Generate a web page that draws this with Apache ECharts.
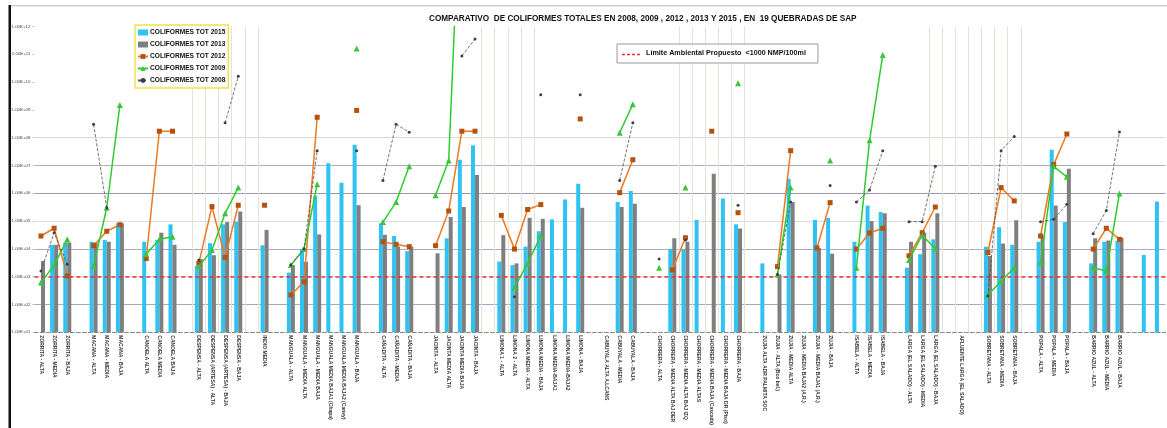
<!DOCTYPE html>
<html>
<head>
<meta charset="utf-8">
<script src="https://cdn.jsdelivr.net/npm/echarts@6/dist/echarts.min.js"></script>
<style>
  html, body { margin: 0; padding: 0; background: #fff; }
  #chart { width: 1167px; height: 428px; }
</style>
</head>
<body>
<div id="chart"></div>
<script>
// Sampling points along the 19 streams (blank entries separate the streams)
const categories = [
  'ZORRITA - ALTA', 'ZORRITA - MEDIA', 'ZORRITA - BAJA', '',
  'MACANA - ALTA', 'MACANA - MEDIA', 'MACANA - BAJA', '',
  'CANOELA ALTA', 'CANOELA MEDIA', 'CANOELA BAJA', '',
  'DESPENSA - ALTA', 'DESPENSA (ARTESA) - ALTA', 'DESPENSA (ARTESA) - BAJA', 'DESPENSA - BAJA', '',
  'INDIO MEDIA', '',
  'MANGUALA - ALTA', 'MANGUALA - MEDIA ALTA', 'MANGUALA - MEDIA BAJA', 'MANGUALA MEDIA BAJA1 (Chapa)', 'MANGUALA MEDIA BAJA2 (Caney)', 'MANGUALA - BAJA', '',
  'CAÑADITA - ALTA', 'CAÑADITA - MEDIA', 'CAÑADITA - BAJA', '',
  'JACINTA - ALTA', 'JACINTA MEDIA ALTA', 'JACINTA MEDIA BAJA', 'JACINTA - BAJA', '',
  'LIMONA 1 - ALTA', 'LIMONA 2 - ALTA', 'LIMONA MEDIA - ALTA', 'LIMONA MEDIA - BAJA', 'LIMONA MEDIA-BAJA1', 'LIMONA MEDIA-BAJA2', 'LIMONA - BAJA', '',
  'CABUYALA ALTA A.LCANS', 'CABUYALA - MEDIA', 'CABUYALA - BAJA', '',
  'CHORRERA - ALTA', 'CHORRERA - MEDIA ALTA BAJ DER', 'CHORRERA - MEDIA ALTA BAJ IZQ', 'CHORRERA - MEDIA ALTAS', 'CHORRERA - MEDIA BAJA (Cascada)', 'CHORRERA - MEDIA BAJA DR (Piso)', 'CHORRERA - BAJA', '',
  'ZUJIA ALTA ADR PALMITA SOC', 'ZUJIA - ALTA (Bco bel.)', 'ZUJIA - MEDIA ALTA', 'ZUJIA - MEDIA BAJA2 (A.R.)', 'ZUJIA - MEDIA BAJA1 (A.R.)', 'ZUJIA - BAJA', '',
  'ISABELA - ALTA', 'ISABELA - MEDIA', 'ISABELA - BAJA', '',
  'LARGA (EL SALADO) - ALTA', 'LARGA (EL SALADO) - MEDIA', 'LARGA (EL SALADO) - BAJA', '',
  'AFLUENTE LARGA (EL SALADO)', '',
  'SOBRETANA - ALTA', 'SOBRETANA - MEDIA', 'SOBRETANA - BAJA', '',
  'POPALA - ALTA', 'POPALA - MEDIA', 'POPALA - BAJA', '',
  'BARRIO AZUL - ALTA', 'BARRIO AZUL - MEDIA', 'BARRIO AZUL - BAJA', '',
  '', ''
];

// Total coliforms (NMP/100ml), one row per stream
const col2015 = [
  null, 1.4e4, 1.7e4, null,
  1.8e4, 2.1e4, 8.3e4, null,
  1.8e4, 2.1e4, 7.6e4, null,
  2.4e3, 1.6e4, 7.6e4, 9.5e4, null,
  1.35e4, null,
  1.4e3, 9.8e3, 8e5, 1.2e7, 2.4e6, 5.6e7, null,
  8.3e4, 2.9e4, 8.3e3, null,
  null, 2.4e4, 1.6e7, 5.3e7, null,
  3.5e3, 2.6e3, 1.2e4, 4.3e4, 1.15e5, 6e5, 2.2e6, null,
  null, 4.8e5, 1.2e6, null,
  null, 1e4, 9.8e3, 1.1e5, null, 6.5e5, 7.6e4, null,
  3e3, null, 3.3e6, null, 1.1e5, 1.3e5, null,
  1.8e4, 3.6e5, 2.1e5, null,
  2.1e3, 6.4e3, 2.2e4, null,
  null, null,
  1.2e4, 6e4, 1.4e4, null,
  1.8e4, 3.7e7, 9.2e4, null,
  3e3, 1.8e4, 1.9e4, null,
  6e3, 5e5
];

const col2013 = [
  3.7e3, 1.4e4, 1.7e4, null,
  1.7e4, 1.8e4, 8.3e4, null,
  null, 3.8e4, 1.4e4, null,
  4.3e3, 5.9e3, 9.2e4, 2.2e5, null,
  4.8e4, null,
  2.6e3, 3.4e3, 3.3e4, null, null, 3.7e5, null,
  3.2e4, 1.2e4, 1.2e4, null,
  6.9e3, 1.4e5, 3.2e5, 4.5e6, null,
  3.1e4, 3e3, 1.3e5, 1.2e5, null, null, 3e5, null,
  null, 3.2e5, 4.2e5, null,
  null, 2.4e4, 1.8e4, null, 5e6, null, 5.4e4, null,
  null, 1.2e3, 4.8e5, null, 1.07e4, 6.7e3, null,
  null, 1e5, 1.9e5, null,
  1.8e4, 3.8e4, 1.9e5, null,
  null, null,
  5.6e3, 1.55e4, 1.07e5, null,
  2.9e4, 3.6e5, 7.6e6, null,
  2.4e4, 2e4, 2.5e4, null,
  null, null
];

const col2012 = [
  2.9e4, 5.5e4, 1.07e3, null,
  1.3e4, 4.3e4, 7.4e4, null,
  4.5e3, 1.7e8, 1.7e8, null,
  3e3, 3.3e5, 4.9e3, 3.7e5, null,
  3.7e5, null,
  2.2e2, 6.5e2, 5.4e8, null, null, 9.5e8, null,
  1.8e4, 1.45e4, 1.2e4, null,
  1.3e4, 2.3e5, 1.7e8, 1.7e8, null,
  1.6e5, 9.8e3, 2.6e5, 3.9e5, null, null, 4.7e8, null,
  null, 1.05e6, 1.6e7, null,
  null, 1.75e3, 2.5e4, null, 1.7e8, null, 2e5, null,
  null, 2.3e3, 3.4e7, null, 1.07e4, 4.6e5, null,
  9.8e3, 3.7e4, 5.5e4, null,
  5.6e3, 3.8e4, 3.2e5, null,
  null, null,
  7.4e3, 1.6e6, 5.3e5, null,
  2.9e4, 1.07e7, 1.35e8, null,
  9.8e3, 5.5e4, 2.2e4, null,
  null, null
];

const col2009 = [
  6.2e2, 2.6e3, 2.2e4, null,
  2.4e3, 3e5, 1.5e9, null,
  6.4e3, 2.2e4, 2.7e4, null,
  2.3e3, 9.1e3, 1.9e5, 1.6e6, null,
  null, null,
  2.6e3, 9.8e3, 2.1e6, null, null, 1.6e11, null,
  9.2e4, 4.8e5, 9.3e6, null,
  8.5e5, 1.5e7, 2e18, null, null,
  null, 4.1e2, 3e3, 2.9e4, null, null, null, null,
  null, 1.5e8, 1.6e9, null,
  2.1e3, null, 1.6e6, null, null, null, 9.1e9, null,
  null, 1.2e3, 1.6e6, null, null, 1.5e7, null,
  2.1e3, 8e7, 9.3e10, null,
  4e3, 3.1e4, 1e4, null,
  null, null,
  2.2e2, 7e2, 2.1e3, null,
  3.2e3, 9.3e6, 3.9e6, null,
  2.1e3, 1.6e3, 9.8e5, null,
  null, null
];

const col2008 = [
  1.6e3, 3.8e4, 2.8e3, null,
  3e8, 3e5, null, null,
  null, null, null, null,
  4e3, null, 3.4e8, 1.6e10, null,
  null, null,
  2.6e3, 1e4, 3.4e7, null, null, 3.4e7, null,
  2.9e6, 3e8, 1.56e8, null,
  null, null, 8.7e10, 3.5e11, null,
  null, 1.9e2, null, 3.5e9, null, null, 3.5e9, null,
  null, 2.9e6, 3.4e8, null,
  4.3e3, null, 2.1e4, null, null, null, 3.7e5, null,
  null, 1.2e3, 4.8e5, null, null, 1.9e6, null,
  4.8e5, 1.3e6, 3.4e7, null,
  9.5e4, 9.5e4, 9.3e6, null,
  null, null,
  2e2, 3.4e7, 1.1e8, null,
  9.5e4, 1.15e5, 4e5, null,
  3.5e4, 2.4e5, 1.6e8, null,
  null, null
];

const LIMIT = 1000;
const LIMIT_NAME = 'Límite Ambiental Propuesto  <1000 NMP/100ml';
const TITLE = 'COMPARATIVO  DE COLIFORMES TOTALES EN 2008, 2009 , 2012 , 2013 Y 2015 , EN  19 QUEBRADAS DE SAP';

// faint vertical separators drawn at a few category boundaries
const vLineAt = [12,13,14,15,16,17, 34,35,36,37,38, 49,50,51,52,53,54, 68,69,70,71,72,73,74,75];
const vColors = [];
for (let k = 0; k <= categories.length; k++) {
  vColors.push(vLineAt.indexOf(k) >= 0 ? '#e6e2d6' : 'rgba(0,0,0,0)');
}
// horizontal grid shades per decade (1E+01 ... 1E+12)
const hColors = ['rgba(0,0,0,0)', '#a9a7bf', '#d9d9df', '#aeacc3', '#dcdce2', '#9a97b7',
                 '#b1afc5', '#d9d9df', 'rgba(0,0,0,0)', 'rgba(0,0,0,0)', 'rgba(0,0,0,0)', 'rgba(0,0,0,0)'];

const LIMIT_RED = '#e8303a';

const chart = echarts.init(document.getElementById('chart'));
const FONT = '"Liberation Sans", Arial, sans-serif';

chart.setOption({
  animation: false,
  title: {
    text: TITLE,
    left: 424, top: 10,
    textStyle: { fontSize: 8.2, fontWeight: 'bold', color: '#111', fontFamily: FONT }
  },
  graphic: [
    { type: 'rect', shape: { x: 10, y: 5, width: 1157, height: 1.5 }, style: { fill: '#cfcfcf' }, silent: true },
    { type: 'rect', shape: { x: 8.5, y: 5, width: 2.5, height: 423 }, style: { fill: '#111' }, silent: true },
    // dashed swatch in the limit legend box
    {
      type: 'line', z: 100, silent: true,
      shape: { x1: 622, y1: 54.5, x2: 641, y2: 54.5 },
      style: { stroke: LIMIT_RED, lineWidth: 1.3, lineDash: [3, 2] }
    }
  ],
  legend: [
    {
      orient: 'vertical',
      left: 135, top: 25,
      itemWidth: 10, itemHeight: 6, itemGap: 5,
      padding: [4, 3, 4, 2],
      backgroundColor: '#fff',
      borderColor: '#f2e24a', borderWidth: 1.5,
      textStyle: { fontSize: 6.6, fontWeight: 'bold', color: '#111', fontFamily: FONT, padding: [0, 0, 0, -3] },
      data: [
        { name: 'COLIFORMES TOT 2015', icon: 'rect' },
        { name: 'COLIFORMES TOT 2013', icon: 'rect' },
        'COLIFORMES TOT 2012',
        'COLIFORMES TOT 2009',
        'COLIFORMES TOT 2008'
      ]
    },
    {
      left: 617, top: 44,
      itemWidth: 20, itemHeight: 2,
      padding: [6, 12, 6, 4],
      backgroundColor: '#fff',
      borderColor: '#9a9a9a', borderWidth: 1,
      textStyle: { fontSize: 7.2, fontWeight: 'bold', color: '#111', fontFamily: FONT },
      data: [{ name: LIMIT_NAME, icon: 'none' }]
    }
  ],
  grid: { left: 34.4, right: 1.5, top: 26.4, bottom: 94.7 },
  xAxis: {
    type: 'category',
    data: categories,
    boundaryGap: true,
    axisLine: { lineStyle: { color: '#8a8a8a', type: 'dashed', width: 1 } },
    axisTick: { show: false },
    axisLabel: {
      interval: 0, rotate: -90, margin: 3,
      fontSize: 5, fontWeight: 'bold', color: '#333', fontFamily: FONT
    },
    splitLine: { show: true, interval: 0, lineStyle: { color: vColors, width: 1 } }
  },
  yAxis: {
    type: 'log',
    logBase: 10,
    min: 10, max: 1e12,
    interval: 1,
    splitNumber: 11,
    axisLine: { show: false },
    axisTick: { show: true, length: 2, lineStyle: { color: '#c0c0c0' } },
    axisLabel: {
      fontSize: 4.4, color: '#444', margin: 4, fontFamily: FONT,
      formatter: function (v) {
        const e = Math.round(Math.log10(v));
        return '1.00E+' + (e < 10 ? '0' + e : e);
      }
    },
    splitLine: { show: true, lineStyle: { color: hColors, width: 1 } }
  },
  series: [
    {
      name: 'COLIFORMES TOT 2015', type: 'bar', data: col2015,
      barWidth: 4, barGap: '0%', clip: true,
      itemStyle: { color: '#2ec3f2' }, z: 2
    },
    {
      name: 'COLIFORMES TOT 2013', type: 'bar', data: col2013,
      barWidth: 4, barGap: '0%', clip: true,
      itemStyle: { color: '#7f7f7f' }, z: 2
    },
    {
      name: 'COLIFORMES TOT 2012', type: 'line', data: col2012,
      connectNulls: false, clip: true,
      symbol: 'rect', symbolSize: 5, showSymbol: true,
      lineStyle: { color: '#f0781e', width: 1.5 },
      itemStyle: { color: '#b5520f' }, z: 4
    },
    {
      name: 'COLIFORMES TOT 2009', type: 'line', data: col2009,
      connectNulls: false, clip: true,
      symbol: 'triangle', symbolSize: 6, showSymbol: true,
      lineStyle: { color: '#2fcc2f', width: 1.5 },
      itemStyle: { color: '#3cc43c' }, z: 5
    },
    {
      name: 'COLIFORMES TOT 2008', type: 'line', data: col2008,
      connectNulls: false, clip: true,
      symbol: 'circle', symbolSize: 3, showSymbol: true,
      lineStyle: { color: '#505058', width: 0.8, type: 'dashed' },
      itemStyle: { color: '#3e3e4a' }, z: 6
    },
    {
      name: LIMIT_NAME, type: 'line', data: [],
      symbol: 'none',
      lineStyle: { color: LIMIT_RED, width: 1.5, type: 'dashed' },
      itemStyle: { color: LIMIT_RED },
      markLine: {
        silent: true, symbol: 'none', label: { show: false },
        lineStyle: { color: LIMIT_RED, width: 1.5, type: [4, 3] },
        data: [{ yAxis: LIMIT }]
      },
      z: 3
    }
  ]
});
</script>
</body>
</html>
